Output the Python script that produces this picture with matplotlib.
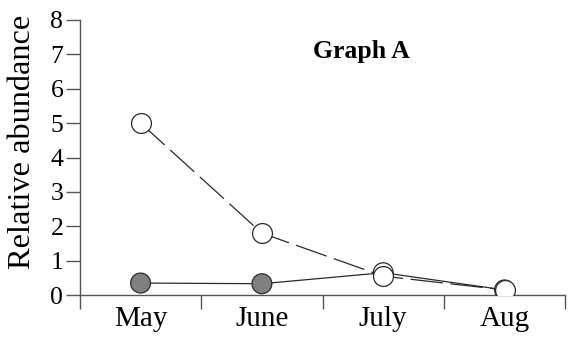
import matplotlib
matplotlib.use("Agg")
import matplotlib.pyplot as plt
import numpy as np

months = ["May", "June", "July", "Aug"]
open_series = [5.0, 1.8, 0.55, 0.15]
filled_series = [0.35, 0.33, 0.65, 0.15]
filled_faces = ["#808080", "#808080", "white", "white"]
y_ticks = [0, 1, 2, 3, 4, 5, 6, 7, 8]

plt.rcParams["font.family"] = ["Liberation Serif", "DejaVu Serif"]

fig = plt.figure(figsize=(5.75, 3.38), dpi=100)
ax = fig.add_axes([0.139, 0.127, 0.844, 0.814])

x = np.arange(len(months))
line_col = "#2a2a2a"
axis_col = "#555555"
msize = 14.3

# solid series (line then markers)
ax.plot(x, filled_series, color=line_col, lw=0.9, zorder=2)
ax.scatter(x, filled_series, s=msize ** 2, c=filled_faces, edgecolors=line_col,
           linewidths=0.9, zorder=3)

# dashed series with open markers
ax.plot(x, open_series, color=line_col, lw=0.9, dashes=(26, 6), zorder=4)
ax.scatter(x, open_series, s=msize ** 2, c="white", edgecolors=line_col,
           linewidths=0.9, zorder=5)

ax.set_xlim(-0.5, len(months) - 0.5)
ax.set_ylim(0, 8)
ax.set_yticks(y_ticks)
ax.set_yticklabels([str(v) for v in y_ticks])
ax.set_xticks(x)
ax.set_xticklabels(months)
ax.set_xticks(np.arange(-0.5, len(months)), minor=True)
ax.tick_params(axis="x", which="major", length=0, labelsize=21, pad=8)
ax.tick_params(axis="x", which="minor", length=10, width=1, color=axis_col,
               direction="out")
ax.tick_params(axis="y", length=10, width=1, color=axis_col, direction="out",
               labelsize=18.5, pad=2)

for side in ("top", "right"):
    ax.spines[side].set_visible(False)
for side in ("left", "bottom"):
    ax.spines[side].set_color(axis_col)
    ax.spines[side].set_linewidth(1)

ylab = ax.set_ylabel("Relative abundance", fontsize=23.3)
ylab.set_verticalalignment("center")
ylab.set_horizontalalignment("center")
ax.yaxis.set_label_coords(-0.118, 0.556)
ax.text(1.82, 7.07, "Graph A", fontsize=18.5, fontweight="bold",
        ha="center", va="center")

fig.savefig("out.png", dpi=100)
